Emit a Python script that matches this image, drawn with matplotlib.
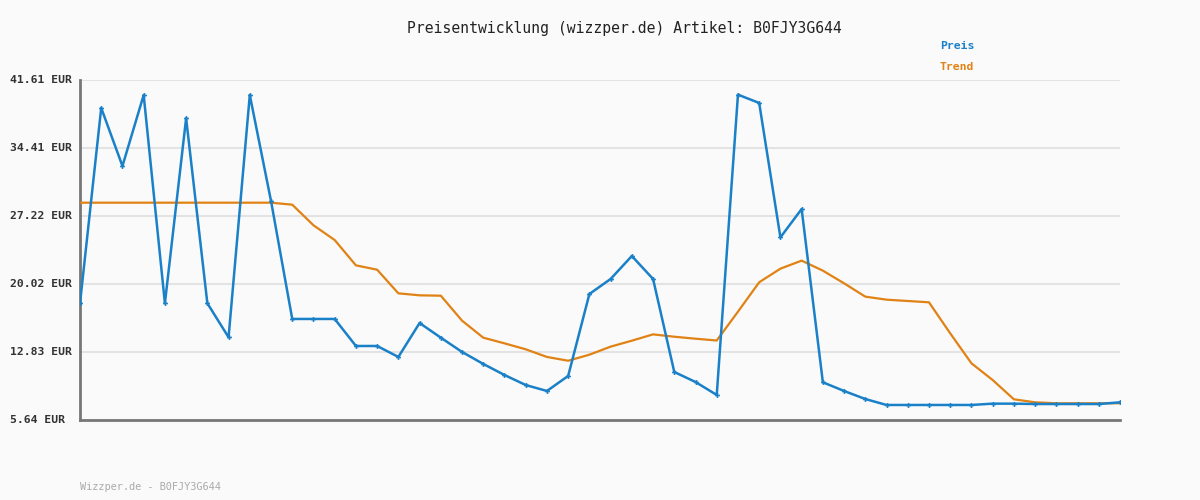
import matplotlib
matplotlib.use("Agg")
import matplotlib.pyplot as plt
import matplotlib.transforms as mtransforms

title = "Preisentwicklung (wizzper.de) Artikel: B0FJY3G644"
footer = "Wizzper.de - B0FJY3G644"
series_names = ["Preis", "Trend"]

preis = [17.99, 38.65, 32.51, 40.02, 17.99, 37.56, 17.99, 14.39, 40.02, 28.81,
         16.33, 16.33, 16.33, 13.47, 13.47, 12.31, 15.90, 14.35, 12.84, 11.57,
         10.40, 9.34, 8.71, 10.30, 18.97, 20.56, 22.99, 20.56, 10.72, 9.66,
         8.29, 40.06, 39.18, 24.96, 27.96, 9.63, 8.71, 7.86, 7.23, 7.23,
         7.23, 7.23, 7.23, 7.37, 7.37, 7.33, 7.33, 7.33, 7.33, 7.51]

trend = [28.63, 28.63, 28.63, 28.63, 28.63, 28.63, 28.63, 28.63, 28.63, 28.63,
         28.42, 26.24, 24.68, 22.00, 21.54, 19.04, 18.83, 18.79, 16.15, 14.35,
         13.75, 13.12, 12.31, 11.91, 12.55, 13.40, 14.03, 14.70, 14.45, 14.24,
         14.05, 17.10, 20.21, 21.65, 22.50, 21.44, 20.10, 18.69, 18.37, 18.23,
         18.09, 14.81, 11.64, 9.87, 7.83, 7.51, 7.41, 7.41, 7.41, 7.41]

yticks = [5.64, 12.83, 20.02, 27.22, 34.41, 41.61]
ytick_labels = ["5.64 EUR", "12.83 EUR", "20.02 EUR", "27.22 EUR", "34.41 EUR", "41.61 EUR"]

blue = "#1a80c8"
orange = "#e08214"
bg = "#fafafa"
mono = "DejaVu Sans Mono"

fig = plt.figure(figsize=(12, 5), dpi=100, facecolor=bg)
ax = fig.add_axes([80/1200, 80/500, 1040/1200, 340/500], facecolor=bg)

x = list(range(len(preis)))
ax.plot(x, trend, color=orange, lw=1.6, zorder=3)
ax.plot(x, preis, color=blue, lw=1.8, marker="P", markersize=3.5,
        markeredgewidth=0, zorder=4)

ax.set_xlim(0, len(preis) - 1)
ax.set_ylim(yticks[0], yticks[-1])
ax.set_yticks(yticks)
ax.set_yticklabels([])
ax.set_xticks([])
ax.tick_params(axis="y", length=0)
ax.grid(axis="y", color="#e3e3e3", lw=1.5, zorder=0)
for s in ["top", "right"]:
    ax.spines[s].set_visible(False)
for s in ["left", "bottom"]:
    ax.spines[s].set_color("#777777")
    ax.spines[s].set_linewidth(2)

trans = mtransforms.blended_transform_factory(fig.transFigure, ax.transData)
for v, lab in zip(yticks, ytick_labels):
    fig.text(10/1200, v, lab, transform=trans, ha="left", va="center",
             family=mono, fontweight="bold", fontsize=8.2, color="#333333")

fig.text(624/1200, 1 - 28/500, title, ha="center", va="center",
         family=mono, fontsize=10.6, color="#222222")
fig.text(940/1200, 1 - 46/500, series_names[0], ha="left", va="center",
         family=mono, fontweight="bold", fontsize=8.2, color=blue)
fig.text(940/1200, 1 - 67/500, series_names[1], ha="left", va="center",
         family=mono, fontweight="bold", fontsize=8.2, color=orange)
fig.text(80/1200, 1 - 487/500, footer, ha="left", va="center",
         family=mono, fontsize=7.4, color="#aaaaaa")

fig.savefig("out.png", dpi=100, facecolor=bg)
